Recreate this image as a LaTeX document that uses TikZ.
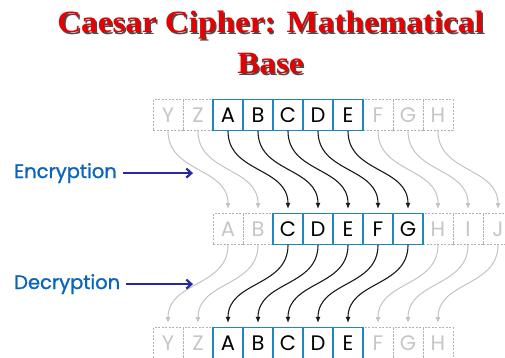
\documentclass[tikz,border=0pt]{standalone}
\usepackage{fontspec}
\usetikzlibrary{arrows.meta}
\newfontfamily\titlefont{Liberation Serif}[FakeStretch=1.07]
\newfontfamily\letterfont{Poppins}
\newfontfamily\labelfont{Poppins}[FakeBold=1.2]
\definecolor{titlered}{RGB}{230,0,0}
\definecolor{boxblue}{RGB}{30,135,195}
\definecolor{labelblue}{RGB}{10,100,190}
\definecolor{arrownavy}{RGB}{40,40,160}
\definecolor{fadegray}{RGB}{195,195,195}
\tikzset{>={Latex[length=6pt,width=5pt]}}
\tikzset{
  titletext/.style={align=center, inner sep=0pt, font=\titlefont\bfseries\fontsize{31}{41}\selectfont},
  letterbox/.style={minimum width=30pt, minimum height=31pt, inner sep=0pt,
    font=\letterfont\fontsize{21}{21}\selectfont},
  onbox/.style={letterbox, draw=boxblue, line width=1.1pt, text=black},
  offbox/.style={letterbox, draw=gray!60, dash pattern=on 2pt off 1.5pt, line width=0.8pt, text=gray!45},
  shiftarrow/.style={->, line width=1.1pt, black!90},
  fadearrow/.style={->, line width=1pt, fadegray},
  steplabel/.style={font=\labelfont\fontsize{19.5}{19.5}\selectfont, text=labelblue, anchor=base west, inner sep=0pt},
  steparrow/.style={-{Straight Barb[length=5pt,width=9pt]}, line width=2.2pt, arrownavy}
}

\begin{document}
\begin{tikzpicture}[x=1pt, y=-1pt]
  \useasboundingbox (0,0) rectangle (505,357);
  % title with its shadow
  \node[titletext, text=black!70] (shadow) at (272,44) {Caesar Cipher: Mathematical\\Base};
  \node[titletext, text=titlered] (title) at (270.5,42.5) {Caesar Cipher: Mathematical\\Base};
  % rows of letters
  \foreach \l/\i in {Y/0,Z/1,F/7,G/8,H/9} {
    \node[offbox] (t\i) at ({168+30*\i},115) {\l};
    \node[offbox] (b\i) at ({168+30*\i},343) {\l};
  }
  \foreach \l/\i in {A/0,B/1,H/7,I/8,J/9}
    \node[offbox] (m\i) at ({228+30*\i},229) {\l};
  \foreach \l/\i in {A/2,B/3,C/4,D/5,E/6} {
    \node[onbox] (t\i) at ({168+30*\i},115) {\l};
    \node[onbox] (b\i) at ({168+30*\i},343) {\l};
  }
  \foreach \l/\i in {C/2,D/3,E/4,F/5,G/6}
    \node[onbox] (m\i) at ({228+30*\i},229) {\l};
  % shifts
  \foreach \i in {0,1,7,8,9} {
    \draw[fadearrow] (t\i.south) .. controls +(0,42) and +(0,-42) .. ([yshift=4pt]m\i.north);
    \draw[fadearrow] (m\i.south) .. controls +(0,42) and +(0,-42) .. ([yshift=4pt]b\i.north);
  }
  \foreach \i in {2,...,6} {
    \draw[shiftarrow] (t\i.south) .. controls +(0,42) and +(0,-42) .. ([yshift=4pt]m\i.north);
    \draw[shiftarrow] (m\i.south) .. controls +(0,42) and +(0,-42) .. ([yshift=4pt]b\i.north);
  }
  % labels
  \node[steplabel] (enc) at (14,178) {Encryption};
  \node[steplabel] (dec) at (14,289) {Decryption};
  \coordinate (encend) at (193,171);
  \coordinate (decend) at (193,283);
  \draw[steparrow] ([xshift=6pt]enc.east) -- (enc.east -| encend);
  \draw[steparrow] ([xshift=6pt]dec.east) -- (dec.east -| decend);
\end{tikzpicture}
\end{document}
